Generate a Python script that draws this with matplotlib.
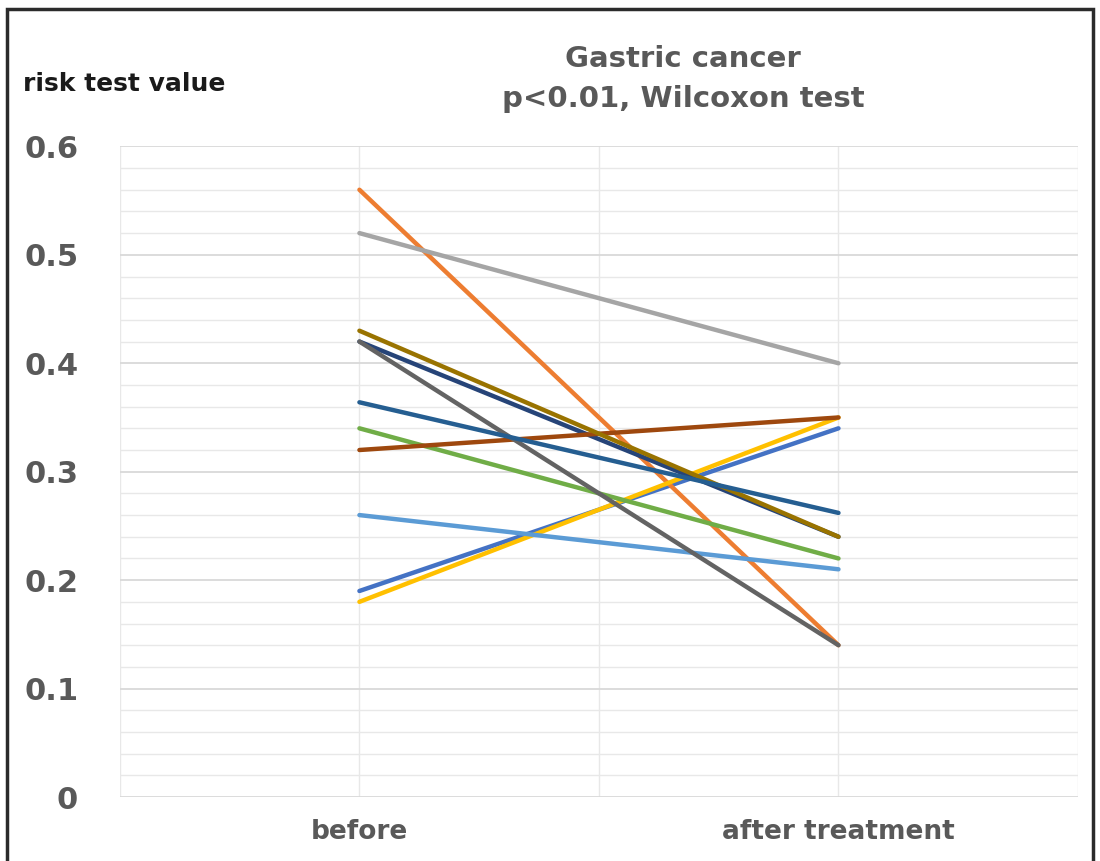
import matplotlib.pyplot as plt
from matplotlib.patches import Rectangle
import numpy as np

plt.rcParams['font.family'] = ['DejaVu Sans']

categories = ['before', 'after treatment']
before = [0.19, 0.56, 0.52, 0.18, 0.26, 0.34, 0.42, 0.32, 0.42, 0.43, 0.364]
after = [0.34, 0.14, 0.40, 0.35, 0.21, 0.22, 0.24, 0.35, 0.14, 0.24, 0.262]
colors = ['#4472C4', '#ED7D31', '#A5A5A5', '#FFC000', '#5B9BD5', '#70AD47',
          '#264478', '#9E480E', '#636363', '#997300', '#255E91']

fig = plt.figure(figsize=(11, 8.61), dpi=100)
ax = fig.add_axes([0.109, 0.0743, 0.871, 0.7557])

xpos = [1, 3]
for b, a, c in zip(before, after, colors):
    ax.plot(xpos, [b, a], color=c, linewidth=3.2, solid_capstyle='round')

ax.set_xlim(0, 4)
ax.set_ylim(0, 0.6)
ax.set_yticks(np.arange(0, 0.61, 0.1))
ax.set_yticklabels(['0', '0.1', '0.2', '0.3', '0.4', '0.5', '0.6'])
ax.set_yticks(np.arange(0, 0.6, 0.02), minor=True)
ax.set_xticks([0, 1, 2, 3, 4])
ax.set_xticklabels(['', categories[0], '', categories[1], ''])

ax.grid(True, which='major', axis='y', color='#d9d9d9', linewidth=1.3)
ax.grid(True, which='minor', axis='y', color='#e8e8e8', linewidth=1.0)
ax.grid(True, which='major', axis='x', color='#e8e8e8', linewidth=1.0)
ax.set_axisbelow(True)
for s in ax.spines.values():
    s.set_visible(False)
ax.tick_params(which='both', length=0)
ax.tick_params(axis='y', pad=30, labelsize=22, labelcolor='#595959')
ax.tick_params(axis='x', pad=16, labelsize=19, labelcolor='#595959')
for lbl in ax.get_xticklabels() + ax.get_yticklabels():
    lbl.set_fontweight('bold')

fig.text(0.621, 0.922, 'Gastric cancer', ha='center', va='baseline',
         fontsize=21, fontweight='bold', color='#595959')
fig.text(0.621, 0.876, 'p<0.01, Wilcoxon test', ha='center', va='baseline',
         fontsize=21, fontweight='bold', color='#595959')
fig.text(0.021, 0.894, 'risk test value', ha='left', va='baseline',
         fontsize=18, fontweight='bold', color='#1a1a1a')

fig.patches.append(Rectangle((0.006, -0.01), 0.988, 0.999, transform=fig.transFigure,
                             fill=False, edgecolor='#2b2b2b', linewidth=2.5))

fig.savefig('out.png', dpi=100)
